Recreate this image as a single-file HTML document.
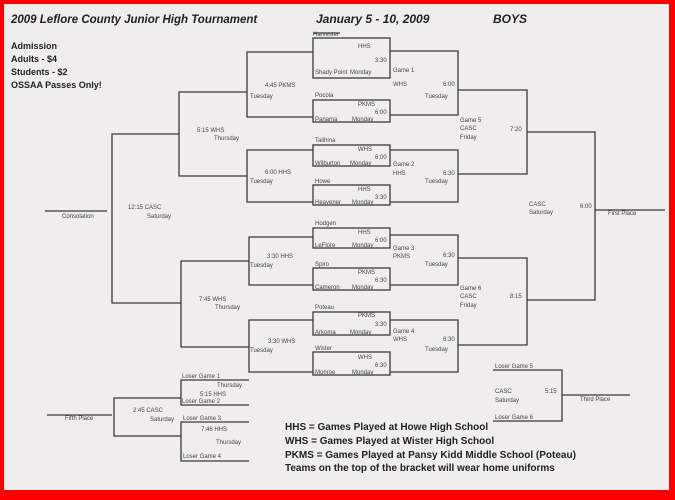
<!DOCTYPE html>
<html><head><meta charset="utf-8"><style>
html,body{margin:0;padding:0;background:#f00;}
#w{position:absolute;left:0;top:0;width:675px;height:495px;}
svg text{font-family:"Liberation Sans",sans-serif;}
.s{font-size:6px;fill:#444;}
.b{font-size:9px;font-weight:bold;fill:#222;}
.l{font-size:10px;font-weight:bold;fill:#222;}
</style></head><body><div id="w">
<svg width="675" height="495" viewBox="0 0 675 495">
<rect x="0" y="0" width="675" height="495" fill="#f00"/>
<rect x="4" y="4" width="665" height="486" fill="#efeded"/>
<text x="11" y="23" font-size="11.5" font-weight="bold" font-style="italic" fill="#222">2009 Leflore County Junior High Tournament</text>
<text x="316" y="23" font-size="12" font-weight="bold" font-style="italic" fill="#222">January 5 - 10, 2009</text>
<text x="493" y="23" font-size="12" font-weight="bold" font-style="italic" fill="#222">BOYS</text>
<text class="b" x="11" y="49">Admission</text>
<text class="b" x="11" y="62">Adults - $4</text>
<text class="b" x="11" y="75">Students - $2</text>
<text class="b" x="11" y="88">OSSAA  Passes Only!</text>
<g stroke="#3a3a3a" stroke-width="1.3" fill="none">
<rect x="313" y="38" width="77" height="40"/><rect x="313" y="100" width="77" height="22"/>
<rect x="313" y="145" width="77" height="21"/><rect x="313" y="185" width="77" height="20"/>
<rect x="313" y="228" width="77" height="20"/><rect x="313" y="268" width="77" height="22"/>
<rect x="313" y="312" width="77" height="23"/><rect x="313" y="352" width="77" height="23"/>
<line x1="313" y1="33" x2="340" y2="33"/>
<polyline points="390,51 458,51 458,115 390,115"/>
<polyline points="390,150 458,150 458,202 390,202"/>
<polyline points="390,235 458,235 458,285 390,285"/>
<polyline points="390,320 458,320 458,372 390,372"/>
<polyline points="458,90 527,90 527,174 458,174"/>
<polyline points="458,258 527,258 527,345 458,345"/>
<polyline points="527,132 595,132 595,300 527,300"/>
<line x1="595" y1="210" x2="665" y2="210"/>
<polyline points="313,52 247,52 247,117 313,117"/>
<polyline points="313,150 247,150 247,202 313,202"/>
<polyline points="313,237 249,237 249,285 313,285"/>
<polyline points="313,320 249,320 249,372 313,372"/>
<polyline points="247,92 179,92 179,176 247,176"/>
<polyline points="249,261 181,261 181,347 249,347"/>
<polyline points="179,134 112,134 112,303 181,303"/>
<line x1="45" y1="211" x2="107" y2="211"/>
<polyline points="249,380 181,380 181,405 249,405"/>
<polyline points="249,422 181,422 181,461 249,461"/>
<polyline points="181,398 114,398 114,436 181,436"/>
<line x1="47" y1="415" x2="112" y2="415"/>
<polyline points="493,370 562,370 562,421 493,421"/>
<line x1="562" y1="395" x2="630" y2="395"/>
</g>
<g class="s">
<text x="313" y="36">Harvester</text><text x="358" y="48">HHS</text><text x="375" y="62">3:30</text><text x="315" y="74">Shady Point</text><text x="350" y="74">Monday</text>
<text x="315" y="97">Pocola</text><text x="358" y="106">PKMS</text><text x="375" y="114">6:00</text><text x="315" y="121">Panama</text><text x="352" y="121">Monday</text>
<text x="315" y="142">Talihina</text><text x="358" y="151">WHS</text><text x="375" y="159">6:00</text><text x="315" y="165">Wilburton</text><text x="350" y="165">Monday</text>
<text x="315" y="183">Howe</text><text x="358" y="191">HHS</text><text x="375" y="199">3:30</text><text x="315" y="204">Heavener</text><text x="352" y="204">Monday</text>
<text x="315" y="225">Hodgen</text><text x="358" y="234">HHS</text><text x="375" y="242">6:00</text><text x="315" y="247">LeFlore</text><text x="352" y="247">Monday</text>
<text x="315" y="266">Spiro</text><text x="358" y="274">PKMS</text><text x="375" y="282">6:30</text><text x="315" y="289">Cameron</text><text x="352" y="289">Monday</text>
<text x="315" y="309">Poteau</text><text x="358" y="317">PKMS</text><text x="375" y="326">3:30</text><text x="315" y="334">Arkoma</text><text x="350" y="334">Monday</text>
<text x="315" y="350">Wister</text><text x="358" y="359">WHS</text><text x="375" y="367">6:30</text><text x="315" y="374">Monroe</text><text x="352" y="374">Monday</text>
<text x="393" y="72">Game 1</text><text x="393" y="86">WHS</text><text x="443" y="86">6:00</text><text x="425" y="98">Tuesday</text>
<text x="393" y="166">Game 2</text><text x="393" y="175">HHS</text><text x="443" y="175">6:30</text><text x="425" y="183">Tuesday</text>
<text x="393" y="250">Game 3</text><text x="393" y="258">PKMS</text><text x="443" y="257">6:30</text><text x="425" y="266">Tuesday</text>
<text x="393" y="333">Game 4</text><text x="393" y="341">WHS</text><text x="443" y="341">6:30</text><text x="425" y="351">Tuesday</text>
<text x="460" y="122">Game 5</text><text x="460" y="130">CASC</text><text x="460" y="139">Friday</text><text x="510" y="131">7:20</text>
<text x="460" y="290">Game 6</text><text x="460" y="298">CASC</text><text x="460" y="307">Friday</text><text x="510" y="298">8:15</text>
<text x="529" y="206">CASC</text><text x="529" y="214">Saturday</text><text x="580" y="208">6:00</text><text x="608" y="215">First Place</text>
<text x="265" y="87">4:45 PKMS</text><text x="250" y="98">Tuesday</text>
<text x="265" y="174">6:00 HHS</text><text x="250" y="183">Tuesday</text>
<text x="267" y="258">3:30 HHS</text><text x="250" y="267">Tuesday</text>
<text x="268" y="343">3:30 WHS</text><text x="250" y="352">Tuesday</text>
<text x="197" y="132">5:15 WHS</text><text x="214" y="140">Thursday</text>
<text x="199" y="301">7:45 WHS</text><text x="215" y="309">Thursday</text>
<text x="128" y="209">12:15 CASC</text><text x="147" y="218">Saturday</text>
<text x="62" y="218">Consolation</text>
<text x="182" y="378">Loser Game 1</text><text x="217" y="387">Thursday</text><text x="200" y="396">5:15 HHS</text><text x="182" y="403">Loser Game 2</text>
<text x="183" y="420">Loser Game 3</text><text x="201" y="431">7:46 HHS</text><text x="216" y="444">Thursday</text><text x="183" y="458">Loser Game 4</text>
<text x="133" y="412">2:45 CASC</text><text x="150" y="421">Saturday</text><text x="65" y="420">Fifth Place</text>
<text x="495" y="368">Loser Game 5</text><text x="495" y="393">CASC</text><text x="495" y="402">Saturday</text><text x="545" y="393">5:15</text><text x="495" y="419">Loser Game 6</text><text x="580" y="401">Third Place</text>
</g>
<text class="l" x="285" y="430">HHS = Games Played at Howe High School</text>
<text class="l" x="285" y="444">WHS = Games Played at Wister High School</text>
<text class="l" x="285" y="458">PKMS = Games Played at Pansy Kidd Middle School (Poteau)</text>
<text class="l" x="285" y="471">Teams on the top of the bracket will wear home uniforms</text>
</svg></div></body></html>
